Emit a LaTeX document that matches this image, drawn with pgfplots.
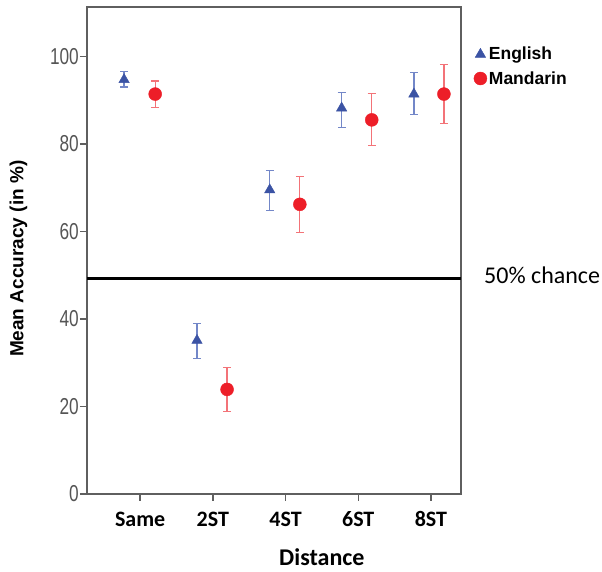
\documentclass[border=0pt]{standalone}
\usepackage{fontspec}
\setmainfont{Liberation Sans}
\newfontfamily\carlito{Carlito}
\newfontfamily\narrowsans[FakeStretch=0.75]{Liberation Sans}
\usepackage{pgfplots}
\pgfplotsset{compat=1.18}
\definecolor{engblue}{RGB}{59,83,164}
\definecolor{engbar}{RGB}{115,135,200}
\definecolor{manred}{RGB}{237,30,40}
\definecolor{manbar}{RGB}{243,115,120}
\definecolor{axgray}{RGB}{95,95,95}
\definecolor{lblgray}{RGB}{85,85,85}

\begin{document}
\begin{tikzpicture}
\useasboundingbox (-87pt,-78pt) rectangle (515pt,494pt);
\begin{axis}[
  scale only axis,
  width=374pt, height=487pt,
  xmin=0.269, xmax=5.414,
  ymin=0, ymax=111.3,
  xtick={1,2,3,4,5},
  xticklabels={Same,2ST,4ST,6ST,8ST},
  ytick={0,20,40,60,80,100},
  tick align=outside,
  xtick pos=bottom, ytick pos=left,
  major tick length=7pt,
  axis line style={axgray, line width=1.4pt},
  tick style={axgray, line width=1.4pt},
  xticklabel style={font=\carlito\bfseries\fontsize{22}{26}\selectfont, anchor=base, yshift=-26pt},
  yticklabel style={font=\narrowsans\fontsize{23}{27}\selectfont, text=lblgray, inner sep=1pt},
  /pgf/number format/assume math mode=true,
  xlabel={Distance},
  xlabel style={font=\carlito\bfseries\fontsize{24}{28}\selectfont, at={(axis description cs:0.628,-0.146)}, anchor=base},
  ylabel={Mean Accuracy (in \%)},
  ylabel style={font=\bfseries\fontsize{19}{22}\selectfont, at={(axis description cs:-0.183,0.483)}, anchor=center},
  clip=false,
  legend cell align=left,
  legend style={at={(axis description cs:1.026,0.926)}, anchor=north west, draw=none, fill=none,
    font=\bfseries\fontsize{17.5}{20}\selectfont, row sep=6pt, nodes={inner xsep=2pt}},
  legend image code/.code={\draw[mark repeat=2,mark phase=2] plot coordinates {(0pt,0pt) (6.5pt,0pt) (13pt,0pt)};},
]

% English
\addplot[only marks, mark=triangle*, mark size=6pt, color=engblue,
  error bars/.cd, y dir=both, y explicit,
  error bar style={engbar, line width=1.3pt},
  error mark options={engbar, rotate=90, mark size=4pt, line width=1.3pt}]
coordinates {
(0.779,94.7) += (0,1.9) -= (0,1.7)
(1.782,35.1) += (0,3.9) -= (0,4.2)
(2.783,69.5) += (0,4.4) -= (0,4.7)
(3.772,88.2) += (0,3.6) -= (0,4.4)
(4.766,91.4) += (0,5.0) -= (0,4.7)
};

% Mandarin
\addplot[only marks, mark=*, mark size=6.5pt, color=manred,
  error bars/.cd, y dir=both, y explicit,
  error bar style={manbar, line width=1.3pt},
  error mark options={manbar, rotate=90, mark size=4pt, line width=1.3pt}]
coordinates {
(1.207,91.4) += (0,3.0) -= (0,3.1)
(2.196,23.9) += (0,5.0) -= (0,5.1)
(3.197,66.2) += (0,6.4) -= (0,6.4)
(4.186,85.5) += (0,6.0) -= (0,5.9)
(5.179,91.4) += (0,6.7) -= (0,6.7)
};

% 50% chance line
\addplot[black, line width=3.5pt, forget plot] coordinates {(0.269,49.3) (5.414,49.3)};
\node[anchor=west, inner sep=0pt, font=\carlito\fontsize{24}{28}\selectfont] at (axis cs:5.73,50.1) {50\% chance};

\legend{English,Mandarin}
\end{axis}
\end{tikzpicture}
\end{document}
